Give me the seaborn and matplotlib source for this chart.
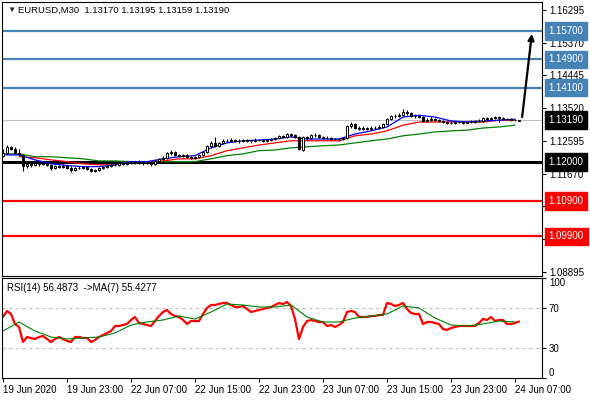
import numpy as np
import pandas as pd
import matplotlib
matplotlib.use("Agg")
import matplotlib.pyplot as plt
import seaborn as sns

sns.set_style("white")
plt.rcParams['font.family'] = ['Liberation Sans', 'DejaVu Sans']
plt.rcParams['font.size'] = 7

# EURUSD M30 candles (19 Jun 15:00 -> 24 Jun 08:00)
opens = [1.1218, 1.1226, 1.1243, 1.1237, 1.1226, 1.1220, 1.1190, 1.1195, 1.1192, 1.1198,
         1.1195, 1.1198, 1.1192, 1.1184, 1.1190, 1.1187, 1.1190, 1.1184, 1.1178, 1.1184,
         1.1184, 1.1187, 1.1181, 1.1175, 1.1178, 1.1184, 1.1187, 1.1190, 1.1192, 1.1192,
         1.1198, 1.1195, 1.1198, 1.1201, 1.1198, 1.1201, 1.1198, 1.1198, 1.1195, 1.1203,
         1.1209, 1.1212, 1.1226, 1.1229, 1.1220, 1.1218, 1.1220, 1.1215, 1.1212, 1.1215,
         1.1220, 1.1229, 1.1246, 1.1254, 1.1246, 1.1254, 1.1260, 1.1260, 1.1262, 1.1260,
         1.1260, 1.1262, 1.1260, 1.1260, 1.1262, 1.1262, 1.1260, 1.1262, 1.1265, 1.1268,
         1.1274, 1.1271, 1.1279, 1.1276, 1.1271, 1.1234, 1.1271, 1.1268, 1.1276, 1.1276,
         1.1271, 1.1268, 1.1268, 1.1265, 1.1265, 1.1265, 1.1268, 1.1302, 1.1307, 1.1296,
         1.1293, 1.1296, 1.1293, 1.1296, 1.1296, 1.1299, 1.1307, 1.1321, 1.1330, 1.1330,
         1.1332, 1.1341, 1.1338, 1.1330, 1.1330, 1.1327, 1.1316, 1.1318, 1.1321, 1.1318,
         1.1316, 1.1313, 1.1310, 1.1310, 1.1313, 1.1313, 1.1310, 1.1313, 1.1313, 1.1316,
         1.1316, 1.1324, 1.1321, 1.1324, 1.1327, 1.1324, 1.1321, 1.1321, 1.1318, 1.1317]
highs = [1.1237, 1.1248, 1.1246, 1.1243, 1.1237, 1.1223, 1.1201, 1.1198, 1.1203, 1.1201,
         1.1203, 1.1201, 1.1195, 1.1192, 1.1192, 1.1195, 1.1192, 1.1190, 1.1187, 1.1190,
         1.1190, 1.1190, 1.1184, 1.1181, 1.1187, 1.1190, 1.1195, 1.1198, 1.1198, 1.1201,
         1.1201, 1.1203, 1.1203, 1.1203, 1.1206, 1.1203, 1.1203, 1.1201, 1.1206, 1.1212,
         1.1218, 1.1229, 1.1234, 1.1232, 1.1223, 1.1223, 1.1223, 1.1218, 1.1218, 1.1223,
         1.1232, 1.1248, 1.1260, 1.1271, 1.1257, 1.1265, 1.1265, 1.1268, 1.1265, 1.1265,
         1.1265, 1.1265, 1.1262, 1.1268, 1.1265, 1.1265, 1.1265, 1.1268, 1.1271, 1.1276,
         1.1276, 1.1282, 1.1282, 1.1279, 1.1274, 1.1274, 1.1274, 1.1279, 1.1282, 1.1279,
         1.1274, 1.1274, 1.1271, 1.1268, 1.1268, 1.1271, 1.1304, 1.1313, 1.1310, 1.1302,
         1.1302, 1.1299, 1.1302, 1.1302, 1.1304, 1.1310, 1.1324, 1.1332, 1.1335, 1.1338,
         1.1349, 1.1346, 1.1341, 1.1335, 1.1332, 1.1330, 1.1324, 1.1327, 1.1324, 1.1321,
         1.1318, 1.1316, 1.1316, 1.1316, 1.1316, 1.1316, 1.1316, 1.1318, 1.1318, 1.1321,
         1.1327, 1.1327, 1.1327, 1.1330, 1.1330, 1.1327, 1.1324, 1.1324, 1.1321, 1.13195]
lows = [1.1215, 1.1223, 1.1234, 1.1223, 1.1218, 1.1175, 1.1184, 1.1187, 1.1190, 1.1190,
        1.1192, 1.1190, 1.1178, 1.1181, 1.1184, 1.1184, 1.1181, 1.1172, 1.1175, 1.1181,
        1.1181, 1.1178, 1.1172, 1.1172, 1.1175, 1.1181, 1.1184, 1.1187, 1.1190, 1.1190,
        1.1192, 1.1192, 1.1195, 1.1195, 1.1195, 1.1192, 1.1195, 1.1190, 1.1192, 1.1201,
        1.1206, 1.1209, 1.1220, 1.1218, 1.1215, 1.1215, 1.1212, 1.1209, 1.1209, 1.1212,
        1.1218, 1.1226, 1.1240, 1.1243, 1.1243, 1.1251, 1.1257, 1.1257, 1.1257, 1.1254,
        1.1257, 1.1257, 1.1254, 1.1257, 1.1260, 1.1257, 1.1257, 1.1260, 1.1262, 1.1265,
        1.1268, 1.1268, 1.1271, 1.1268, 1.1234, 1.1232, 1.1262, 1.1265, 1.1271, 1.1268,
        1.1265, 1.1265, 1.1262, 1.1262, 1.1260, 1.1262, 1.1265, 1.1296, 1.1293, 1.1290,
        1.1290, 1.1290, 1.1290, 1.1293, 1.1293, 1.1296, 1.1304, 1.1318, 1.1324, 1.1327,
        1.1330, 1.1332, 1.1327, 1.1324, 1.1324, 1.1313, 1.1313, 1.1316, 1.1316, 1.1313,
        1.1310, 1.1307, 1.1307, 1.1307, 1.1310, 1.1307, 1.1310, 1.1310, 1.1310, 1.1313,
        1.1313, 1.1318, 1.1318, 1.1321, 1.1313, 1.1318, 1.1318, 1.1316, 1.1316, 1.13159]
closes = [1.1226, 1.1243, 1.1237, 1.1226, 1.1223, 1.1190, 1.1195, 1.1192, 1.1198, 1.1195,
          1.1198, 1.1192, 1.1184, 1.1190, 1.1187, 1.1190, 1.1184, 1.1178, 1.1184, 1.1184,
          1.1187, 1.1181, 1.1175, 1.1178, 1.1184, 1.1187, 1.1190, 1.1192, 1.1192, 1.1198,
          1.1195, 1.1198, 1.1201, 1.1198, 1.1201, 1.1198, 1.1198, 1.1195, 1.1203, 1.1209,
          1.1212, 1.1226, 1.1229, 1.1220, 1.1218, 1.1220, 1.1215, 1.1212, 1.1215, 1.1220,
          1.1229, 1.1246, 1.1254, 1.1246, 1.1254, 1.1260, 1.1260, 1.1262, 1.1260, 1.1260,
          1.1262, 1.1260, 1.1260, 1.1262, 1.1262, 1.1260, 1.1262, 1.1265, 1.1268, 1.1274,
          1.1271, 1.1279, 1.1276, 1.1271, 1.1237, 1.1271, 1.1268, 1.1276, 1.1276, 1.1271,
          1.1268, 1.1268, 1.1265, 1.1265, 1.1265, 1.1268, 1.1302, 1.1307, 1.1296, 1.1293,
          1.1296, 1.1293, 1.1296, 1.1296, 1.1299, 1.1307, 1.1321, 1.1330, 1.1330, 1.1332,
          1.1341, 1.1338, 1.1330, 1.1330, 1.1327, 1.1316, 1.1318, 1.1321, 1.1318, 1.1316,
          1.1313, 1.1310, 1.1310, 1.1313, 1.1313, 1.1310, 1.1313, 1.1313, 1.1316, 1.1316,
          1.1324, 1.1321, 1.1324, 1.1327, 1.1324, 1.1321, 1.1321, 1.1318, 1.1318, 1.1319]

# moving averages sampled every 4 bars
ma_bars = list(range(0, 129, 4))
ma_blue = [1.1220, 1.1220, 1.1206, 1.1195, 1.1190, 1.1187, 1.1187, 1.1192, 1.1201, 1.1201,
           1.1209, 1.1215, 1.1218, 1.1240, 1.1254, 1.1260, 1.1262, 1.1265, 1.1271, 1.1265,
           1.1265, 1.1265, 1.1279, 1.1288, 1.1299, 1.1327, 1.1332, 1.1327, 1.1316, 1.1313,
           1.1316, 1.1318, 1.1321]
ma_red = [np.nan, 1.1215, 1.1212, 1.1206, 1.1201, 1.1195, 1.1192, 1.1192, 1.1201, 1.1201,
          1.1203, 1.1209, 1.1209, 1.1218, 1.1232, 1.1240, 1.1248, 1.1254, 1.1260, 1.1260,
          1.1260, 1.1260, 1.1274, 1.1279, 1.1288, 1.1304, 1.1313, 1.1313, 1.1313, 1.1313,
          1.1313, 1.1318, 1.1318]
ma_green = [1.1223, 1.1223, 1.1215, 1.1215, 1.1212, 1.1209, 1.1203, 1.1203, 1.1201, 1.1201,
            1.1201, 1.1201, 1.1201, 1.1209, 1.1218, 1.1223, 1.1232, 1.1234, 1.1240, 1.1243,
            1.1246, 1.1248, 1.1254, 1.1260, 1.1265, 1.1274, 1.1279, 1.1285, 1.1288, 1.1290,
            1.1296, 1.1299, 1.1304]

# RSI(14) per bar and its MA(7) every 4 bars
rsi = [61, 67, 64, 54, 51, 36, 41, 40, 39, 41, 42, 39, 36, 39, 41, 39, 37, 36, 41, 41,
       40, 40, 36, 38, 41, 43, 45, 47, 52, 52, 53, 54, 58, 61, 55, 54, 53, 52, 57, 62,
       66, 68, 64, 62, 61, 58, 54, 57, 57, 57, 64, 70, 73, 73, 74, 75, 75, 73, 71, 71,
       72, 69, 66, 67, 68, 69, 70, 71, 73, 75, 74, 76, 72, 59, 39, 51, 57, 58, 57, 56,
       56, 52, 53, 51, 53, 56, 66, 67, 66, 61, 61, 61, 62, 62, 63, 63, 75, 74, 72, 73,
       75, 69, 65, 64, 64, 54, 56, 56, 55, 54, 49, 48, 50, 51, 52, 52, 52, 52, 52, 55,
       59, 58, 61, 57, 58, 58, 54, 54, 55, 56.5]
rsi_ma = [47, 56, 47, 41, 39, 40, 41, 45, 53, 56, 58, 62, 59, 66, 74, 73, 71, 71, 73, 61,
          56, 56, 60, 62, 64, 72, 70, 60, 53, 52, 54, 57, 56]

# horizontal levels
blue_levels = [1.157, 1.149, 1.141]
black_level = 1.12
red_levels = [1.109, 1.099]
target = 1.157

price_ticks = [1.16295, 1.15370, 1.14445, 1.13520, 1.12595, 1.11670, 1.10745, 1.09820, 1.08895]
time_labels = ['19 Jun 2020', '19 Jun 23:00', '22 Jun 07:00', '22 Jun 15:00', '22 Jun 23:00',
               '23 Jun 07:00', '23 Jun 15:00', '23 Jun 23:00', '24 Jun 07:00']
time_ticks = list(range(0, 129, 16))

df = pd.DataFrame({'open': opens, 'high': highs, 'low': lows, 'close': closes})
df['bar'] = np.arange(len(df))
ma = pd.DataFrame({'bar': ma_bars, 'blue': ma_blue, 'red': ma_red, 'green': ma_green, 'rsi_ma': rsi_ma})

fig = plt.figure(figsize=(5.9, 4.0), dpi=100)
ax = fig.add_axes([2 / 590, 1 - 276 / 400, 540 / 590, 274 / 400])
ax_rsi = fig.add_axes([2 / 590, 1 - 378 / 400, 540 / 590, 100 / 400])

# levels
for lvl in blue_levels:
    ax.axhline(lvl, color='#4682B4', lw=1.6, zorder=1)
for lvl in red_levels:
    ax.axhline(lvl, color='#FF0000', lw=1.6, zorder=1)
ax.axhline(black_level, color='black', lw=2.2, zorder=1)
ax.axhline(closes[-1], color='#C0C0C0', lw=0.8, zorder=1)

# moving averages
sns.lineplot(data=ma, x='bar', y='green', ax=ax, color='#008000', lw=0.9, zorder=2)
sns.lineplot(data=ma, x='bar', y='red', ax=ax, color='#FF0000', lw=0.9, zorder=2)
sns.lineplot(data=ma, x='bar', y='blue', ax=ax, color='#0000FF', lw=0.9, zorder=2)

# candles
bull = df['close'] >= df['open']
ax.vlines(df['bar'], df['low'], df['high'], color='black', lw=0.8, zorder=3)
ax.bar(df['bar'], (df['close'] - df['open']).abs(), bottom=df[['open', 'close']].min(axis=1),
       width=0.7, color=np.where(bull, 'white', 'black'), edgecolor='black', linewidth=0.7, zorder=4)

# projection arrow
n = len(df)
ax.annotate('', xy=(n + 2.3, target), xytext=(n - 0.3, closes[-1]),
            arrowprops=dict(arrowstyle='-|>', color='black', lw=1.6, mutation_scale=9), zorder=6)

ax.set_xlim(-0.25, 134.75)
ax.set_ylim(1.0878, 1.1652)
ax.set_xticks([])
ax.set_xlabel('')
ax.set_ylabel('')
ax.yaxis.tick_right()
ax.set_yticks(price_ticks)
ax.set_yticklabels([f'{t:.5f}' for t in price_ticks])
ax.tick_params(axis='y', direction='out', length=3, width=0.8, pad=2, labelsize=7,
               right=True, left=False, colors='black')


def price_tag(y, text, color):
    ax.text(1.0125, y, text, transform=ax.get_yaxis_transform(), ha='left', va='center',
            color='white', fontsize=7, clip_on=False, zorder=10,
            bbox=dict(boxstyle='square,pad=0.38', fc=color, ec=color))


for lvl in blue_levels:
    price_tag(lvl, f'{lvl:.5f}', '#4682B4')
for lvl in red_levels:
    price_tag(lvl, f'{lvl:.5f}', '#FF0000')
price_tag(black_level, f'{black_level:.5f}', 'black')
price_tag(closes[-1], f'{closes[-1]:.5f}', 'black')

ax.text(0.010, 0.971, '\u25BC', transform=ax.transAxes, fontsize=6, va='center', ha='left')
ax.text(0.030, 0.971, 'EURUSD,M30  1.13170 1.13195 1.13159 1.13190', transform=ax.transAxes,
        fontsize=6.8, va='center', ha='left', color='black')

# RSI panel
ax_rsi.axhline(70, color='#C0C0C0', ls=(0, (3, 3)), lw=0.8)
ax_rsi.axhline(30, color='#C0C0C0', ls=(0, (3, 3)), lw=0.8)
sns.lineplot(x=df['bar'], y=rsi, ax=ax_rsi, color='#FF0000', lw=1.6)
sns.lineplot(data=ma, x='bar', y='rsi_ma', ax=ax_rsi, color='#008000', lw=0.8)
ax_rsi.set_xlim(-0.25, 134.75)
ax_rsi.set_ylim(0, 100)
ax_rsi.set_xlabel('')
ax_rsi.set_ylabel('')
ax_rsi.yaxis.tick_right()
ax_rsi.set_yticks([0, 30, 70, 100])
ylabels = ax_rsi.set_yticklabels(['0', '30', '70', '100'])
ylabels[0].set_va('bottom')
ylabels[-1].set_va('top')
ax_rsi.tick_params(axis='y', direction='out', length=3, width=0.8, pad=2, labelsize=7,
                   right=True, left=False, colors='black')
ax_rsi.set_xticks(time_ticks)
xlabels = ax_rsi.set_xticklabels(time_labels)
for lab in xlabels:
    lab.set_ha('left')
ax_rsi.tick_params(axis='x', direction='out', length=3, width=0.8, pad=2, labelsize=7,
                   bottom=True, colors='black')
ax_rsi.text(0.0093, 0.90, 'RSI(14) 56.4873  ->MA(7) 55.4277', transform=ax_rsi.transAxes,
            fontsize=7, va='center', ha='left', color='black')

for a in (ax, ax_rsi):
    for s in a.spines.values():
        s.set_color('black')
        s.set_linewidth(0.8)
    a.set_facecolor('white')

fig.savefig('out.png', dpi=100, facecolor='white')
